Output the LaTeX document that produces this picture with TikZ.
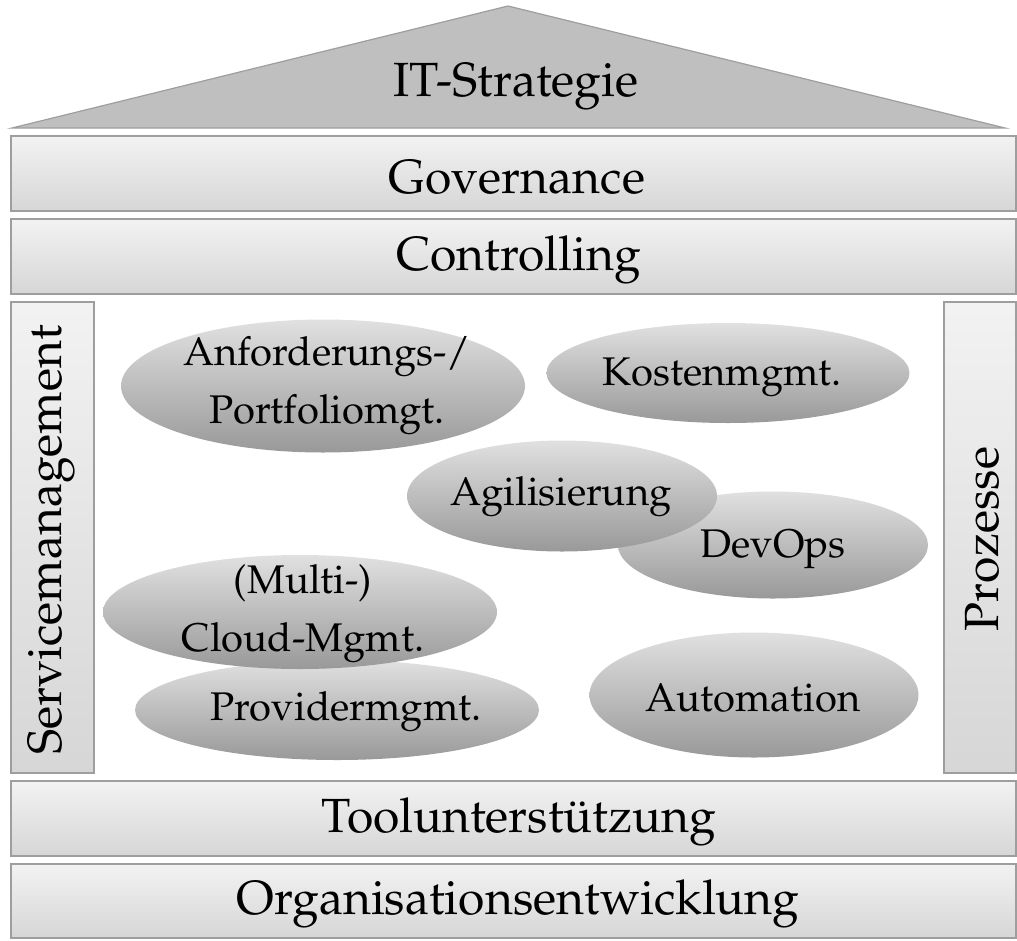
\documentclass[tikz,border=0pt]{standalone}
\usepackage[T1]{fontenc}
\usepackage{mathpazo}
\usetikzlibrary{shapes.geometric}
\begin{document}
\begin{tikzpicture}[x=1pt,y=-1pt,
  bar/.style={draw=black!38,line width=1.2pt,top color=black!5,bottom color=black!16},
  oval/.style={ellipse,top color=black!12,bottom color=black!40,draw=none,inner sep=0pt},
  ovaltext/.style={inner sep=0pt,align=center,font=\fontsize{40}{58}\selectfont},
  bigtext/.style={font=\fontsize{48}{52}\selectfont}]
\useasboundingbox (0,0) rectangle (1017,940);
% roof
\path[fill=black!25,draw=black!38,line width=1.2pt] (12,128) -- (508,6) -- (1005,128) -- cycle;
\node[bigtext] (roof) at (516,87) {IT-Strategie};
% bars
\path[bar] (11,136) rectangle (1016,211);
\node[bigtext] (gov) at (517,177) {Governance};
\path[bar] (11,219) rectangle (1016,294);
\node[bigtext] (ctrl) at (519,260) {Controlling};
\path[bar] (11,302) rectangle (94,773);
\node[bigtext,rotate=90] (svc) at (52,540) {Servicemanagement};
\path[bar] (944,302) rectangle (1016,773);
\node[bigtext,rotate=90] (proz) at (982,539) {Prozesse};
\path[bar] (11,781) rectangle (1016,856);
\node[bigtext] (tool) at (519,822) {Toolunterst\"utzung};
\path[bar] (11,864) rectangle (1016,938);
\node[bigtext] (org) at (518,904) {Organisationsentwicklung};
% ovals
\node[oval,minimum width=404,minimum height=133] (anf) at (323,386) {};
\node[ovaltext] (anft) at (327,386) {Anforderungs-/\\Portfoliomgt.};
\node[oval,minimum width=363,minimum height=100] (kost) at (728,373) {};
\node[ovaltext] (kostt) at (722,377) {Kostenmgmt.};
\node[oval,minimum width=310,minimum height=107] (dev) at (773,545) {};
\node[ovaltext] (devt) at (773,549) {DevOps};
\node[oval,minimum width=310,minimum height=111] (agil) at (562,496) {};
\node[ovaltext] (agilt) at (561,497) {Agilisierung};
\node[oval,minimum width=404,minimum height=100] (prov) at (337,710) {};
\node[ovaltext] (provt) at (346,712) {Providermgmt.};
\node[oval,minimum width=394,minimum height=114] (cloud) at (300,612) {};
\node[ovaltext] (cloudt) at (303,614) {(Multi-)\\Cloud-Mgmt.};
\node[oval,minimum width=329,minimum height=125] (auto) at (754,695) {};
\node[ovaltext] (autot) at (753,698) {Automation};
\end{tikzpicture}
\end{document}
